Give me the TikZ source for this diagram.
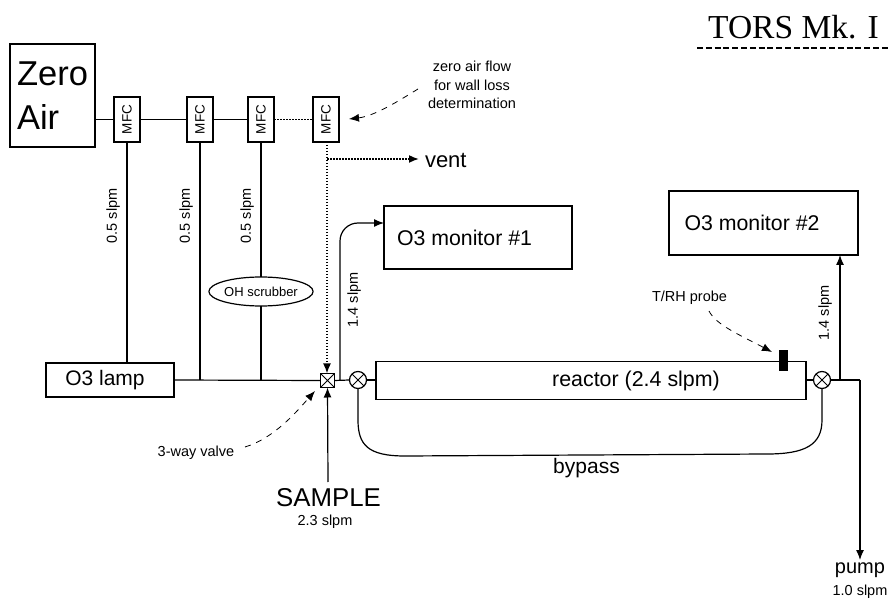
\documentclass[tikz,border=0pt]{standalone}
\usepackage{fontspec}
\setmainfont{Liberation Sans}
\newfontfamily\serifface{Liberation Serif}
\usetikzlibrary{arrows.meta,shapes.geometric}
\newcommand{\fs}[1]{\fontsize{#1}{#1}\selectfont}
\begin{document}
\begin{tikzpicture}[x=1pt,y=-1pt,
  every node/.style={inner sep=0pt,outer sep=0pt},
  box/.style={draw,line width=1.2pt,fill=white,anchor=north west,align=center},
  mfc/.style={draw,line width=1.2pt,fill=white,minimum width=26pt,minimum height=45pt},
  pipe/.style={line width=1.2pt},
  flow/.style={pipe,-{Latex[length=10pt,width=8pt]}},
  dot/.style={line width=1.7pt,dash pattern=on 1.5pt off 1.5pt},
  note/.style={line width=.8pt,dash pattern=on 6pt off 6pt,-{Latex[length=10pt,width=8pt]}},
  rate/.style={rotate=90,font=\fs{14.5}},
  small/.style={font=\fs{14.5}}]
\useasboundingbox (0,0) rectangle (889,601);
% boxes
\node[box,minimum width=85pt,minimum height=103pt,font=\fs{34.5},align=left] (zero) at (10,44) {Zero\\[9pt]Air\hspace*{22pt}};
\node[mfc] (m1) at (127,119.5) {\rotatebox{90}{\fs{13.5}MFC}};
\node[mfc] (m2) at (200,119.5) {\rotatebox{90}{\fs{13.5}MFC}};
\node[mfc] (m3) at (261,119.5) {\rotatebox{90}{\fs{13.5}MFC}};
\node[mfc] (m4) at (326,119.5) {\rotatebox{90}{\fs{13.5}MFC}};
\node[box,minimum width=128pt,minimum height=34pt,font=\fs{21}] (lamp) at (46,363) {\raisebox{-3pt}{O3 lamp\hspace*{10pt}}};
\node[box,minimum width=188pt,minimum height=63pt,font=\fs{21.3}] (mon1) at (384,206) {\raisebox{-1pt}{O3 monitor \#1\hspace*{27pt}}};
\node[box,minimum width=189pt,minimum height=64pt,font=\fs{21.3}] (mon2) at (669,191) {\raisebox{-1pt}{O3 monitor \#2\hspace*{23pt}}};
\node[box,minimum width=430pt,minimum height=38pt,font=\fs{21.4}] (reactor) at (376,361.5) {\hspace*{90pt}reactor (2.4 slpm)};
\node[draw,line width=1.2pt,fill=white,minimum width=14pt,minimum height=14pt] (valve) at (327.5,380.5) {};
\draw[line width=1pt] (valve.north west)--(valve.south east) (valve.north east)--(valve.south west);
\node[draw,line width=1.2pt,fill=white,circle,minimum size=17pt] (c1) at (358,380) {};
\node[draw,line width=1.2pt,fill=white,circle,minimum size=17pt] (c2) at (822,380) {};
\draw[line width=1pt] (c1.north west)--(c1.south east) (c1.north east)--(c1.south west);
\draw[line width=1pt] (c2.north west)--(c2.south east) (c2.north east)--(c2.south west);
\node[fill=black,minimum width=9pt,minimum height=21pt] (probe) at (783.5,360.5) {};
\node[draw,line width=1.2pt,fill=white,ellipse,minimum width=90pt,minimum height=29pt,font=\fs{13}] (oh) at (261,291.5) {OH scrubber};
% junctions
\coordinate (j2) at (m2.south |- c1.center);
\coordinate (j3) at (m3.south |- c1.center);
\coordinate (jl) at (lamp.east |- c1.center);
\coordinate (jm) at (340,380);
\coordinate (jr) at (840,380);
\coordinate (jo) at (840,255);
\coordinate (jp) at (860,380);
\coordinate (jv) at (327,159);
\coordinate (ventend) at (419,159);
\coordinate (pumpend) at (860,560);
\coordinate (sampstart) at (328,482);
% pipes
\draw[pipe] (zero.east |- m1.west) -- (m1.west);
\draw[pipe] (m1.east) -- (m2.west);
\draw[pipe] (m2.east) -- (m3.west);
\draw[dot] (m3.east) -- (m4.west);
\draw[pipe] (m1.south) -- (m1.south |- lamp.north);
\draw[pipe] (m2.south) -- (j2);
\draw[pipe] (m3.south) -- (oh.north);
\draw[pipe] (oh.south) -- (j3);
\draw[pipe] (jl) -- (valve.west);
\draw[pipe] (valve.east) -- (c1.west);
\draw[pipe] (c1.east) -- (reactor.west |- c1.center);
\draw[pipe] (reactor.east |- c2.center) -- (c2.west);
\draw[pipe] (c2.east) -- (jp);
\draw[flow,rounded corners=18pt] (jm) |- (mon1.west |- 0,223);
\draw[flow] (jr) -- (jo);
\draw[flow] (jp) -- (pumpend);
\draw[flow] (sampstart) -- (valve.south);
\draw[dot,-{Latex[length=10pt,width=8pt]}] (m4.south -| 327,0) -- (valve.north -| 327,0);
\draw[dot,-{Latex[length=10pt,width=8pt]}] (jv) -- (ventend);
\draw[pipe] (c1.south) -- (358,420) .. controls (358,445) and (368,456) .. (405,456) -- (767,454) .. controls (805,454) and (822,445) .. (822,420) -- (c2.south);
% labels
\node[rate] (r1) at (113,216) {0.5 slpm};
\node[rate] (r2) at (186,216) {0.5 slpm};
\node[rate] (r3) at (247,216) {0.5 slpm};
\node[rate] (r4) at (354,300) {1.4 slpm};
\node[rate] (r5) at (825,313) {1.4 slpm};
\node[font=\fs{22},anchor=west] (vent) at (425,160) {vent};
\node[font=\fs{21}] (byp) at (586.5,468) {bypass};
\node[font=\fs{25.8}] (samp) at (328.5,498) {SAMPLE};
\node[small] (s2) at (325,522) {2.3 slpm};
\node[font=\fs{20}] (pump) at (860,570) {pump};
\node[small] (p2) at (860,592) {1.0 slpm};
\node[small] (way) at (196,453) {3-way valve};
\node[small] (trh) at (689.5,298) {T/RH probe};
\node[small,align=center] (zn) at (472,85) {zero air flow\\[4pt]for wall loss\\[4pt]determination};
\node[font={\fs{33.5}\serifface}] (title) at (793.5,27) {TORS Mk. I};
\coordinate (tl) at (697,48);
\coordinate (tr) at (889,48);
\draw[line width=1.6pt,dash pattern=on 6pt off 2.8pt] (tl) -- (tr);
\coordinate (n1) at (418,89);
\coordinate (n2) at (245,447);
\coordinate (n3) at (709,311);
\draw[note] (n1) .. controls (400,100) and (375,116) .. (349,119);
\draw[note] (n2) .. controls (275,438) and (298,410) .. (315,391);
\draw[note] (n3) .. controls (716,325) and (740,335) .. (772,352);
\end{tikzpicture}
\end{document}
